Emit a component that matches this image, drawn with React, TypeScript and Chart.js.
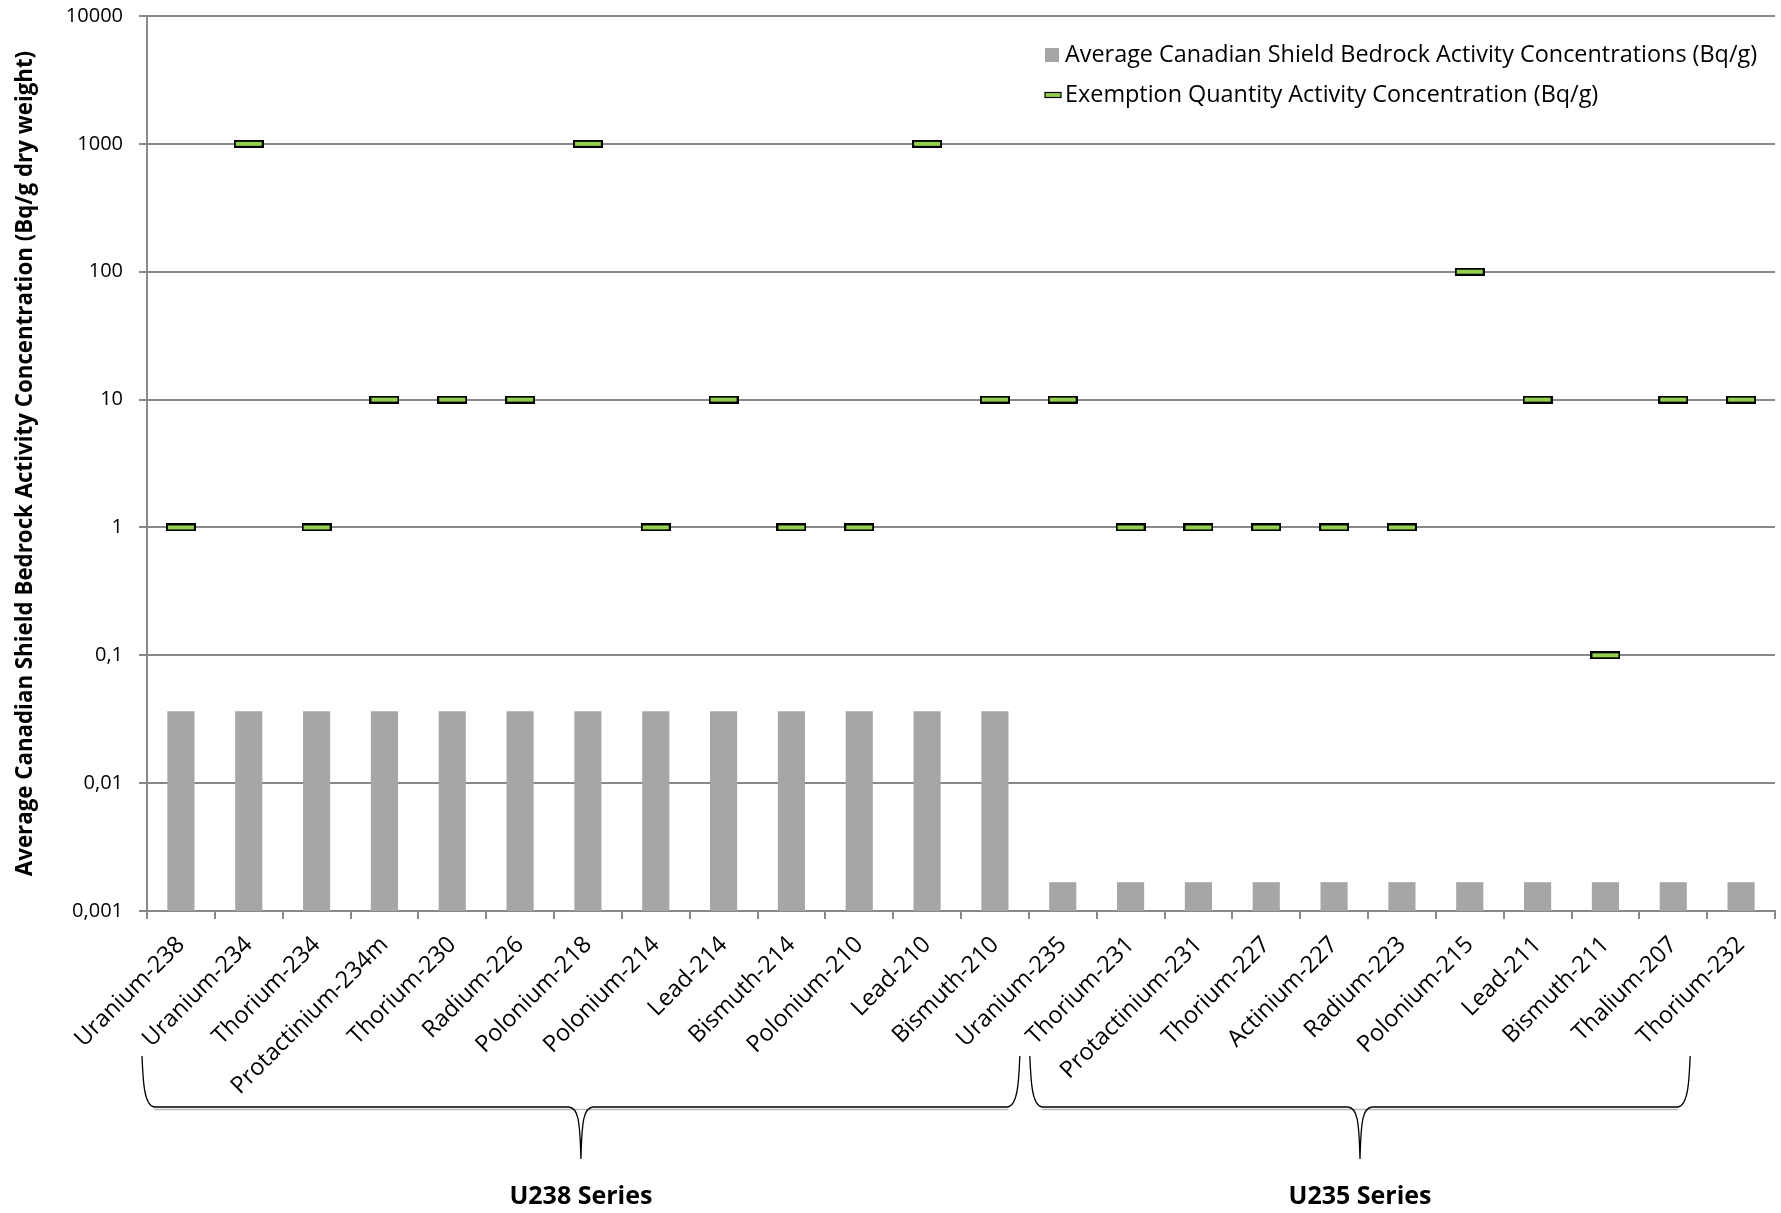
import React, { useEffect, useRef } from "react";
import { Chart, registerables } from "chart.js";

Chart.register(...registerables);

const categories = [
  "Uranium-238", "Uranium-234", "Thorium-234", "Protactinium-234m", "Thorium-230",
  "Radium-226", "Polonium-218", "Polonium-214", "Lead-214", "Bismuth-214",
  "Polonium-210", "Lead-210", "Bismuth-210", "Uranium-235", "Thorium-231",
  "Protactinium-231", "Thorium-227", "Actinium-227", "Radium-223", "Polonium-215",
  "Lead-211", "Bismuth-211", "Thalium-207", "Thorium-232",
];

const bedrockValues = [
  0.0365, 0.0365, 0.0365, 0.0365, 0.0365, 0.0365, 0.0365, 0.0365, 0.0365, 0.0365,
  0.0365, 0.0365, 0.0365, 0.00168, 0.00168, 0.00168, 0.00168, 0.00168, 0.00168,
  0.00168, 0.00168, 0.00168, 0.00168, 0.00168,
];

const exemptionValues = [
  1, 1000, 1, 10, 10, 10, 1000, 1, 10, 1, 1, 1000, 10, 10, 1, 1, 1, 1, 1, 100, 10,
  0.1, 10, 10,
];

const seriesLabels = [
  "Average Canadian Shield Bedrock Activity Concentrations (Bq/g)",
  "Exemption Quantity Activity Concentration (Bq/g)",
];

const yTickValues = [0.001, 0.01, 0.1, 1, 10, 100, 1000, 10000];
const yTickLabels = ["0,001", "0,01", "0,1", "1", "10", "100", "1000", "10000"];

const yAxisTitle =
  "Average Canadian Shield Bedrock Activity Concentration (Bq/g dry weight)";

const groupLabels = ["U238 Series", "U235 Series"];
const groupStart = [0, 13];
const groupEnd = [12, 23];

const FONT = "'Open Sans', 'Liberation Sans', sans-serif";
const BAR_COLOR = "#A6A6A6";
const MARK_COLOR = "#92D050";
const GRID_COLOR = "#888888";

function makeMarker(w: number, h: number): HTMLCanvasElement {
  const c = document.createElement("canvas");
  c.width = w;
  c.height = h;
  const g = c.getContext("2d")!;
  g.fillStyle = MARK_COLOR;
  g.fillRect(0, 0, w, h);
  g.strokeStyle = "#000000";
  g.lineWidth = 2;
  g.strokeRect(1, 1, w - 2, h - 2);
  return c;
}

const legendPlugin = {
  id: "insideLegend",
  afterDraw(chart: any) {
    const ctx = chart.ctx;
    ctx.save();
    const x0 = 1045;
    const rows = [55, 95];
    ctx.fillStyle = BAR_COLOR;
    ctx.fillRect(x0, rows[0] - 7, 14, 14);
    ctx.fillStyle = MARK_COLOR;
    ctx.fillRect(x0, rows[1] - 2.5, 16, 5);
    ctx.strokeStyle = "#000";
    ctx.lineWidth = 1.2;
    ctx.strokeRect(x0, rows[1] - 2.5, 16, 5);
    ctx.fillStyle = "#000";
    ctx.font = `23.4px ${FONT}`;
    ctx.textBaseline = "middle";
    ctx.textAlign = "left";
    seriesLabels.forEach((t, i) => ctx.fillText(t, x0 + 20, rows[i]));
    ctx.restore();
  },
};

function drawBrace(ctx: CanvasRenderingContext2D, x1: number, x2: number, yTop: number, yMid: number, yTip: number) {
  const xm = (x1 + x2) / 2;
  ctx.beginPath();
  ctx.moveTo(x1, yTop);
  ctx.bezierCurveTo(x1 + 1, yTop + 25, x1 + 2, yMid - 2, x1 + 12, yMid);
  ctx.lineTo(xm - 12, yMid);
  ctx.bezierCurveTo(xm - 3, yMid + 1, xm - 1, yMid + 12, xm, yTip);
  ctx.bezierCurveTo(xm + 1, yMid + 12, xm + 3, yMid + 1, xm + 12, yMid);
  ctx.lineTo(x2 - 12, yMid);
  ctx.bezierCurveTo(x2 - 2, yMid - 2, x2 - 1, yTop + 25, x2, yTop);
  ctx.stroke();
}

const bracePlugin = {
  id: "seriesBraces",
  afterDraw(chart: any) {
    const ctx = chart.ctx;
    const xs = chart.scales.x;
    const w = (xs.right - xs.left) / categories.length;
    const startOff = [-5, 1];
    const endOff = [-9, -17 - w];
    ctx.save();
    groupLabels.forEach((label, i) => {
      const x1 = xs.getPixelForValue(groupStart[i]) - w / 2 + startOff[i];
      const x2 = xs.getPixelForValue(groupEnd[i]) + w / 2 + endOff[i];
      ctx.strokeStyle = "#bbbbbb";
      ctx.lineWidth = 1.5;
      ctx.beginPath();
      ctx.moveTo(x1 + 12, 1109.5);
      ctx.lineTo(x2 - 12, 1109.5);
      ctx.stroke();
      ctx.strokeStyle = "#000";
      ctx.lineWidth = 1.3;
      drawBrace(ctx, x1, x2, 1056, 1107, 1159);
      ctx.fillStyle = "#000";
      ctx.font = `bold 25px ${FONT}`;
      ctx.textAlign = "center";
      ctx.textBaseline = "middle";
      ctx.fillText(label, (x1 + x2) / 2, 1197);
    });
    ctx.restore();
  },
};

export default function App() {
  const ref = useRef<HTMLCanvasElement | null>(null);
  useEffect(() => {
    document.body.style.margin = "0";
    const marker = makeMarker(30, 8);
    const chart = new Chart(ref.current!, {
      type: "bar",
      data: {
        labels: categories,
        datasets: [
          {
            type: "bar",
            label: seriesLabels[0],
            data: bedrockValues,
            backgroundColor: BAR_COLOR,
            barPercentage: 0.8,
            categoryPercentage: 0.5,
            order: 2,
          },
          {
            type: "line",
            label: seriesLabels[1],
            data: exemptionValues,
            showLine: false,
            pointStyle: marker as any,
            pointRadius: 15,
            order: 1,
          } as any,
        ],
      },
      options: {
        animation: false,
        responsive: false,
        layout: { autoPadding: false, padding: { top: 16, right: 6, left: 0, bottom: 0 } },
        plugins: { legend: { display: false }, tooltip: { enabled: false } },
        scales: {
          x: {
            type: "category",
            grid: {
              offset: true,
              drawOnChartArea: false,
              drawTicks: true,
              tickLength: 8,
              color: GRID_COLOR,
              lineWidth: 2,
            },
            border: { display: true, color: GRID_COLOR, width: 2 },
            ticks: {
              autoSkip: false,
              minRotation: 45,
              maxRotation: 45,
              padding: 12,
              color: "#000",
              font: { family: FONT, size: 23.5 },
            },
            afterFit(scale: any) {
              scale.height = 302;
              scale.paddingLeft = 0;
              scale.paddingRight = 0;
              scale.paddingTop = 0;
              scale.paddingBottom = 0;
            },
          },
          y: {
            type: "logarithmic",
            min: 0.001,
            max: 10000,
            afterBuildTicks(scale: any) {
              scale.ticks = yTickValues.map((v) => ({ value: v }));
            },
            afterFit(scale: any) {
              scale.width = 147;
              scale.paddingLeft = 0;
              scale.paddingRight = 0;
              scale.paddingTop = 0;
              scale.paddingBottom = 0;
            },
            grid: {
              color: GRID_COLOR,
              lineWidth: 2,
              tickLength: 8,
              drawTicks: true,
            },
            border: { display: true, color: GRID_COLOR, width: 2 },
            ticks: {
              padding: 16,
              color: "#000",
              font: { family: FONT, size: 20 },
              callback: (v: any) => {
                const i = yTickValues.findIndex((t) => Math.abs(t - Number(v)) < t * 1e-6);
                return i >= 0 ? yTickLabels[i] : "";
              },
            },
            title: {
              display: true,
              text: yAxisTitle,
              color: "#000",
              font: { family: FONT, size: 22.3, weight: "bold" },
              padding: { top: 12, bottom: 4 },
            },
          },
        },
      },
      plugins: [legendPlugin, bracePlugin],
    });
    return () => chart.destroy();
  }, []);
  return (
    <div style={{ width: 1781, height: 1213 }}>
      <canvas ref={ref} width={1781} height={1213} style={{ display: "block" }} />
    </div>
  );
}
